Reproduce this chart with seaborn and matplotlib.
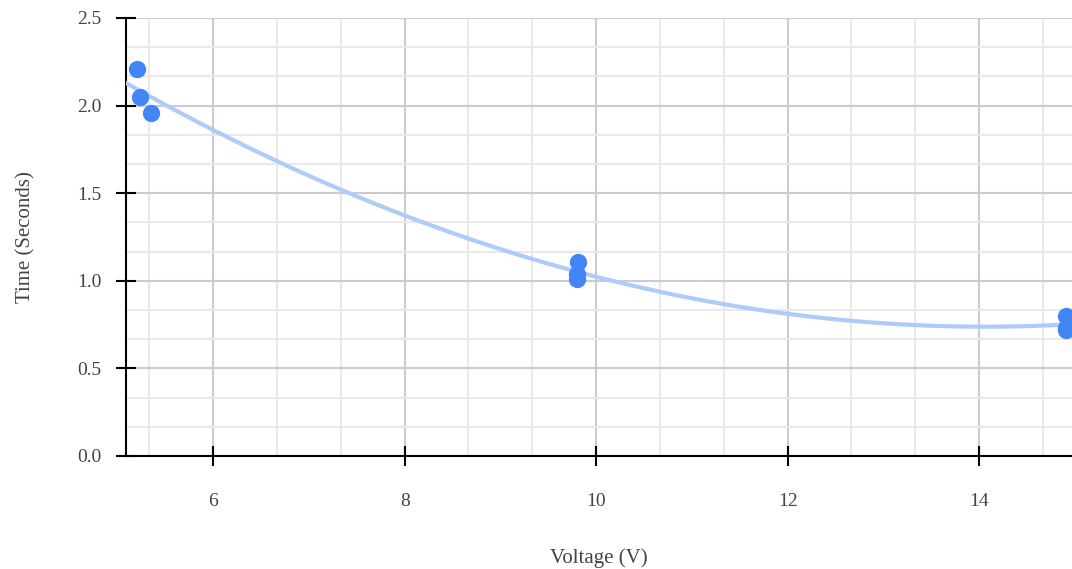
import numpy as np
import pandas as pd
import seaborn as sns
import matplotlib.pyplot as plt
from matplotlib.ticker import MultipleLocator

voltage = [5.21, 5.24, 5.35, 9.81, 9.80, 9.80, 14.91, 14.91, 14.91]
time_s = [2.21, 2.05, 1.96, 1.11, 1.04, 1.01, 0.80, 0.73, 0.72]

x_ticks = [6, 8, 10, 12, 14]
y_ticks = [0.0, 0.5, 1.0, 1.5, 2.0, 2.5]

df = pd.DataFrame({'Voltage (V)': voltage, 'Time (Seconds)': time_s})

sns.set_theme(style='white')
plt.rcParams['font.family'] = ['Liberation Serif', 'DejaVu Serif']

fig = plt.figure(figsize=(10.72, 5.69), dpi=100)
ax = fig.add_axes([126 / 1072, 1 - 456 / 569, 1 - 126 / 1072, (456 - 18) / 569])
ax.set_xlim(5.09, 14.97)
ax.set_ylim(0, 2.5)

sns.regplot(data=df, x='Voltage (V)', y='Time (Seconds)', order=2, ci=None,
            truncate=False, ax=ax,
            scatter_kws=dict(s=155, color='#4285f4', alpha=1, linewidths=0, zorder=4),
            line_kws=dict(color='#aecbfa', lw=3, zorder=3))

ax.set_xlim(5.09, 14.97)
ax.set_ylim(0, 2.5)
ax.set_xticks(x_ticks)
ax.set_yticks(y_ticks)
ax.set_xticklabels([str(t) for t in x_ticks])
ax.set_yticklabels([f'{t:.1f}' for t in y_ticks])
ax.xaxis.set_minor_locator(MultipleLocator(2 / 3))
ax.yaxis.set_minor_locator(MultipleLocator(1 / 6))

ax.set_axisbelow(True)
ax.grid(which='major', color='#cccccc', lw=1.5)
ax.grid(which='minor', color='#e9e9e9', lw=1.5)

for s in ['top', 'right']:
    ax.spines[s].set_visible(False)
for s in ['left', 'bottom']:
    ax.spines[s].set_color('black')
    ax.spines[s].set_linewidth(1.5)

ax.tick_params(which='major', bottom=True, left=True, direction='inout', length=15,
               width=1.5, color='black', labelsize=14, labelcolor='#444444')
ax.tick_params(axis='x', which='major', pad=19)
ax.tick_params(axis='y', which='major', pad=10)
ax.tick_params(which='minor', length=0)

ax.set_xlabel('Voltage (V)', fontsize=15, color='#444444', labelpad=27.5)
ax.set_ylabel('Time (Seconds)', fontsize=15, color='#444444', labelpad=30)

fig.savefig('out.png', dpi=100)
